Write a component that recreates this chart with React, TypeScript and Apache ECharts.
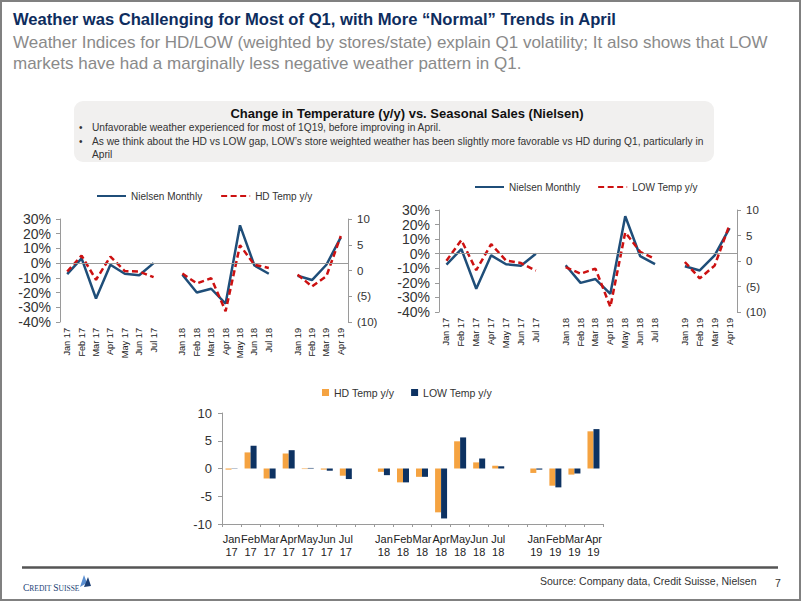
import React, { useEffect, useRef } from "react";
import * as echarts from "echarts";

const categories = [
  "Jan 17", "Feb 17", "Mar 17", "Apr 17", "May 17", "Jun 17", "Jul 17", "",
  "Jan 18", "Feb 18", "Mar 18", "Apr 18", "May 18", "Jun 18", "Jul 18", "",
  "Jan 19", "Feb 19", "Mar 19", "Apr 19",
];
const nielsenMonthly = [
  -7.5, 3.2, -24, -1.1, -7.2, -8.2, 0, null,
  -7.9, -20, -17.4, -27.5, 25.7, -1.6, -7.2, null,
  -8.6, -11.5, -1.1, 17.5,
];
const hdTemp = [
  -0.2, 2.9, -1.8, 2.7, -0.1, -0.2, -1.3, null,
  -0.6, -2.5, -1.5, -7.9, 4.9, 1.1, 0.5, null,
  -0.8, -3.1, -1.1, 6.7,
];
const lowTemp = [
  0.05, 4.1, -1.8, 3.3, 0.1, -0.4, -1.9, null,
  -1.2, -2.5, -1.5, -9.0, 5.6, 1.8, 0.4, null,
  -0.2, -3.4, -0.9, 7.1,
];
const pctAxis = { min: -40, max: 30, interval: 10 };
const tempAxis = { min: -10, max: 10, interval: 5 };

const FONT = "Liberation Sans, Arial, sans-serif";
const NAVY = "#1f4e79";
const RED = "#cc1111";
const AXIS_GREY = "#9a9a9a";
const HD_ORANGE = "#f5a341";
const LOW_NAVY = "#0d3262";

function tempFmt(v: number) {
  return v < 0 ? `(${-v})` : `${v}`;
}

function lineOption(
  tempName: string,
  tempData: (number | null)[],
  grid: { left: number; top: number; width: number; height: number },
  legend: { left: number; top: number; gap: number }
): any {
  return {
    animation: false,
    textStyle: { fontFamily: FONT },
    legend: {
      left: legend.left,
      top: legend.top,
      padding: 0,
      itemWidth: 29,
      itemHeight: 12,
      itemGap: legend.gap,
      itemStyle: { opacity: 0 },
      textStyle: { fontSize: 10, color: "#333", fontFamily: FONT },
      data: ["Nielsen Monthly", tempName],
    },
    grid: { ...grid, containLabel: false },
    xAxis: {
      type: "category",
      data: categories,
      boundaryGap: true,
      axisLine: { show: false },
      axisTick: { show: false },
      axisLabel: {
        interval: 0,
        rotate: 90,
        margin: 6,
        fontSize: 9.2,
        color: "#222",
        fontFamily: FONT,
      },
    },
    yAxis: [
      {
        type: "value",
        ...pctAxis,
        axisLine: { show: true, lineStyle: { color: AXIS_GREY } },
        axisTick: { show: true, length: 4, lineStyle: { color: AXIS_GREY } },
        splitLine: { show: false },
        axisLabel: {
          formatter: "{value}%",
          fontSize: 14,
          color: "#333",
          margin: 9,
          fontFamily: FONT,
        },
      },
      {
        type: "value",
        position: "right",
        ...tempAxis,
        axisLine: { show: true, lineStyle: { color: AXIS_GREY } },
        axisTick: { show: true, length: 4, lineStyle: { color: AXIS_GREY } },
        splitLine: { show: false },
        axisLabel: {
          formatter: tempFmt,
          fontSize: 11.5,
          color: "#333",
          margin: 9,
          fontFamily: FONT,
        },
      },
    ],
    series: [
      {
        name: "Nielsen Monthly",
        type: "line",
        yAxisIndex: 0,
        data: nielsenMonthly,
        symbol: "none",
        connectNulls: false,
        lineStyle: { color: NAVY, width: 2.5 },
        itemStyle: { color: NAVY },
        markLine: {
          silent: true,
          symbol: ["none", "none"],
          label: { show: false },
          lineStyle: { color: AXIS_GREY, width: 1, type: "solid" },
          data: [{ yAxis: 0 }],
        },
      },
      {
        name: tempName,
        type: "line",
        yAxisIndex: 1,
        data: tempData,
        symbol: "none",
        connectNulls: false,
        lineStyle: { color: RED, width: 2.5, type: [6, 3.5] },
        itemStyle: { color: RED },
      },
    ],
  };
}

function barOption(): any {
  const barLabels = categories.map((c) => c.replace(" ", "\n"));
  return {
    animation: false,
    textStyle: { fontFamily: FONT },
    legend: {
      left: 322,
      top: 387,
      padding: 0,
      icon: "rect",
      itemWidth: 7,
      itemHeight: 7,
      itemGap: 17,
      textStyle: { fontSize: 10.5, color: "#333", fontFamily: FONT },
      data: ["HD Temp y/y", "LOW Temp y/y"],
    },
    grid: { left: 222, top: 413, width: 381, height: 111 },
    xAxis: [
      {
        type: "category",
        data: barLabels,
        position: "bottom",
        axisLine: { show: false },
        axisTick: { show: false },
        axisLabel: {
          interval: 0,
          fontSize: 11,
          lineHeight: 13,
          margin: 8,
          color: "#222",
          fontFamily: FONT,
        },
      },
      {
        type: "category",
        data: barLabels,
        position: "bottom",
        axisLine: { show: true, onZero: true, lineStyle: { color: AXIS_GREY } },
        axisTick: { show: true, length: 3, interval: 0, lineStyle: { color: AXIS_GREY } },
        axisLabel: { show: false },
      },
    ],
    yAxis: {
      type: "value",
      ...tempAxis,
      axisLine: { show: true, lineStyle: { color: AXIS_GREY } },
      axisTick: { show: true, length: 4, lineStyle: { color: AXIS_GREY } },
      splitLine: { show: false },
      axisLabel: { fontSize: 13, color: "#333", margin: 10, fontFamily: FONT },
    },
    series: [
      {
        name: "HD Temp y/y",
        type: "bar",
        xAxisIndex: 0,
        data: hdTemp,
        barWidth: 6,
        barGap: "0%",
        itemStyle: { color: HD_ORANGE },
      },
      {
        name: "LOW Temp y/y",
        type: "bar",
        xAxisIndex: 0,
        data: lowTemp,
        barWidth: 6,
        barGap: "0%",
        itemStyle: { color: LOW_NAVY },
      },
    ],
  };
}

function pageOption(): any {
  const txt = (
    x: number,
    y: number,
    text: string,
    size: number,
    color: string,
    extra: any = {}
  ) => ({
    type: "text",
    x,
    y,
    silent: true,
    style: {
      text,
      fontSize: size,
      fill: color,
      fontFamily: FONT,
      verticalAlign: "middle",
      ...extra,
    },
  });
  return {
    animation: false,
    graphic: [
      {
        type: "rect",
        shape: { x: 1, y: 1, width: 799, height: 599 },
        style: { fill: "#fff", stroke: "#808080", lineWidth: 2 },
        silent: true,
      },
      txt(13, 19, "Weather was Challenging for Most of Q1, with More “Normal” Trends in April", 16.6, "#0e2d5e", { fontWeight: "bold" }),
      txt(13, 42, "Weather Indices for HD/LOW (weighted by stores/state) explain Q1 volatility; It also shows that LOW", 17, "#8a8a8a"),
      txt(13, 63, "markets have had a marginally less negative weather pattern in Q1.", 17, "#8a8a8a"),
      {
        type: "rect",
        shape: { x: 74, y: 101, width: 640, height: 61, r: 9 },
        style: { fill: "#f1f0ef" },
        silent: true,
      },
      txt(407, 113, "Change in Temperature (y/y) vs. Seasonal Sales (Nielsen)", 13, "#111", { fontWeight: "bold", align: "center" }),
      txt(79, 127, "•", 10, "#333"),
      txt(92, 127, "Unfavorable weather experienced for most of 1Q19, before improving in April.", 10.2, "#333"),
      txt(79, 141, "•", 10, "#333"),
      txt(92, 141, "As we think about the HD vs LOW gap, LOW’s store weighted weather has been slightly more favorable vs HD during Q1, particularly in", 10.2, "#333"),
      txt(92, 154, "April", 10.2, "#333"),
      {
        type: "line",
        shape: { x1: 22, y1: 567.5, x2: 778, y2: 567.5 },
        style: { stroke: "#555", lineWidth: 2.5 },
        silent: true,
      },
      {
        type: "text",
        x: 23,
        y: 588,
        silent: true,
        style: {
          text: "{a|C}{b|REDIT }{a|S}{b|UISSE}",
          verticalAlign: "middle",
          rich: {
            a: { fontSize: 9.5, fill: "#1c3f75", fontFamily: "Liberation Serif, serif" },
            b: { fontSize: 7.5, fill: "#1c3f75", fontFamily: "Liberation Serif, serif" },
          },
        },
      },
      {
        type: "polygon",
        shape: { points: [[80, 587], [84, 575], [87, 583]] },
        style: { fill: "#5b8fd1" },
        silent: true,
      },
      {
        type: "polygon",
        shape: { points: [[84, 587], [88, 577], [91, 586]] },
        style: { fill: "#1c3f75" },
        silent: true,
      },
      txt(540, 581, "Source: Company data, Credit Suisse, Nielsen", 10.5, "#333"),
      txt(775, 583, "7", 10.5, "#333"),
    ],
  };
}

function Chart({ option }: { option: any }) {
  const ref = useRef<HTMLDivElement>(null);
  useEffect(() => {
    if (!ref.current) return;
    const chart = echarts.init(ref.current, undefined, { renderer: "svg" });
    chart.setOption(option);
    return () => chart.dispose();
  }, [option]);
  return (
    <div
      ref={ref}
      style={{ position: "absolute", left: 0, top: 0, width: 802, height: 602 }}
    />
  );
}

const OPTIONS = [
  pageOption(),
  lineOption("HD Temp y/y", hdTemp, { left: 60, top: 219, width: 288, height: 103 }, { left: 96, top: 191, gap: 18 }),
  lineOption("LOW Temp y/y", lowTemp, { left: 439, top: 210, width: 298, height: 102 }, { left: 474, top: 182, gap: 17 }),
  barOption(),
];

export default function App() {
  useEffect(() => {
    document.body.style.margin = "0";
  }, []);
  return (
    <div style={{ position: "fixed", left: 0, top: 0, width: 802, height: 602, background: "#fff" }}>
      {OPTIONS.map((o, i) => (
        <Chart key={i} option={o} />
      ))}
    </div>
  );
}
